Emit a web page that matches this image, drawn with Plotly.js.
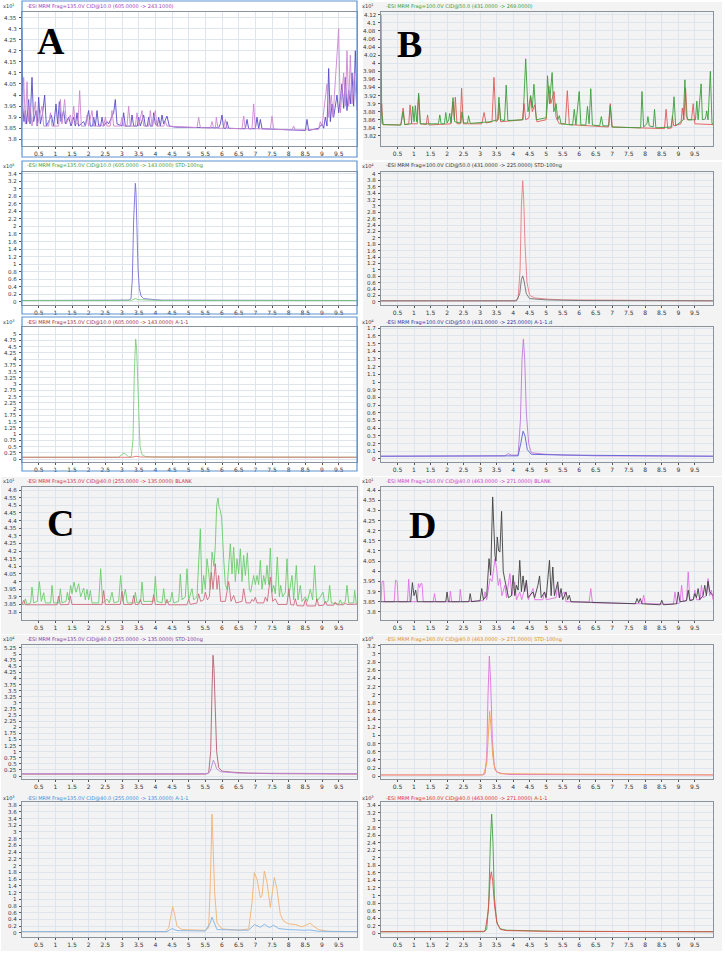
<!DOCTYPE html>
<html><head><meta charset="utf-8">
<script src="https://cdn.plot.ly/plotly-3.0.1.min.js"></script>
<style>html,body{margin:0;padding:0;background:#fff}#chart{width:725px;height:955px}</style>
</head><body><div id="chart"></div>
<script>
// ---------------- DATA ----------------
const xTickVals = [0.5,1,1.5,2,2.5,3,3.5,4,4.5,5,5.5,6,6.5,7,7.5,8,8.5,9,9.5];
const xTickText = ['0.5','1','1.5','2','2.5','3','3.5','4','4.5','5','5.5','6','6.5','7','7.5','8','8.5','9','9.5'];

const yTicksA = ['3.8','3.85','3.9','3.95','4','4.05','4.1','4.15','4.2','4.25','4.3','4.35'];
const yTicksB = ['3.82','3.84','3.86','3.88','3.9','3.92','3.94','3.96','3.98','4','4.02','4.04','4.06','4.08','4.1','4.12'];
const yTicksC = ['3.8','3.85','3.9','3.95','4','4.05','4.1','4.15','4.2','4.25','4.3','4.35','4.4','4.45','4.5','4.55','4.6'];
const yTicksD = ['3.8','3.85','3.9','3.95','4','4.05','4.1','4.15','4.2','4.25','4.3','4.35','4.4'];
const yTicks0to34 = ['0','0.2','0.4','0.6','0.8','1','1.2','1.4','1.6','1.8','2','2.2','2.4','2.6','2.8','3','3.2','3.4'];
const yTicks0to4 = ['0','0.2','0.4','0.6','0.8','1','1.2','1.4','1.6','1.8','2','2.2','2.4','2.6','2.8','3','3.2','3.4','3.6','3.8','4'];
const yTicks0to5 = ['0','0.25','0.5','0.75','1','1.25','1.5','1.75','2','2.25','2.5','2.75','3','3.25','3.5','3.75','4','4.25','4.5','4.75','5'];
const yTicks0to17 = ['0','0.1','0.2','0.3','0.4','0.5','0.6','0.7','0.8','0.9','1','1.1','1.2','1.3','1.4','1.5','1.6','1.7'];
const yTicks0to525 = ['0','0.25','0.5','0.75','1','1.25','1.5','1.75','2','2.25','2.5','2.75','3','3.25','3.5','3.75','4','4.25','4.5','4.75','5','5.25'];
const yTicks0to32 = ['0','0.2','0.4','0.6','0.8','1','1.2','1.4','1.6','1.8','2','2.2','2.4','2.6','2.8','3','3.2'];
const yTicks0to38 = ['0','0.2','0.4','0.6','0.8','1','1.2','1.4','1.6','1.8','2','2.2','2.4','2.6','2.8','3','3.2','3.4','3.6','3.8'];

// Panel A (blank, 605 -> 243)
const A_blue = [[0,4.3],[0.02,3.95],[0.06,3.88],[0.1,3.93],[0.14,3.87],[0.2,3.98],[0.24,3.87],[0.3,4.08],[0.35,3.88],[0.42,3.93],[0.46,3.86],[0.5,3.99],[0.55,3.87],[0.62,3.92],[0.68,4.0],[0.73,3.86],[0.8,3.88],[0.88,3.91],[0.95,3.86],[1.02,3.96],[1.07,3.87],[1.12,3.97],[1.17,3.88],[1.25,3.93],[1.3,3.87],[1.4,3.9],[1.47,3.86],[1.55,3.9],[1.6,3.86],[1.65,3.92],[1.7,3.86],[1.85,3.88],[1.9,3.86],[2.0,3.93],[2.05,3.86],[2.12,3.86],[2.15,3.9],[2.2,3.86],[2.25,3.93],[2.3,3.86],[2.36,3.86],[2.4,3.9],[2.45,3.86],[2.55,3.88],[2.6,3.87],[2.75,3.92],[2.8,3.98],[2.85,3.87],[3.0,3.86],[3.05,3.92],[3.1,3.86],[3.26,3.86],[3.3,3.91],[3.35,3.86],[3.46,3.86],[3.5,3.9],[3.55,3.86],[3.65,3.91],[3.7,3.86],[3.76,3.86],[3.8,3.9],[3.85,3.86],[3.92,3.86],[3.95,3.92],[4.0,3.87],[4.06,3.86],[4.1,3.9],[4.15,3.86],[4.2,3.91],[4.25,3.87],[4.35,3.905],[4.42,3.86],[4.6,3.855],[5.0,3.855],[5.5,3.853],[5.9,3.852],[5.95,3.87],[6.0,3.91],[6.05,3.85],[6.12,3.85],[6.15,3.88],[6.2,3.85],[6.6,3.848],[6.7,3.848],[6.75,3.89],[6.8,3.848],[7.0,3.848],[7.05,3.9],[7.1,3.848],[7.15,3.89],[7.2,3.848],[8.0,3.843],[8.5,3.84],[8.55,3.89],[8.6,3.84],[8.9,3.85],[9.0,3.87],[9.05,3.85],[9.1,3.9],[9.15,3.86],[9.2,4.12],[9.25,3.88],[9.3,3.96],[9.35,3.9],[9.45,4.0],[9.5,3.92],[9.6,4.05],[9.65,3.94],[9.7,4.08],[9.75,3.93],[9.8,4.02],[9.85,3.96],[9.9,4.1],[9.95,3.95],[10.0,4.2],[10.05,3.97]];
const A_pink = [[0,3.86],[0.05,4.08],[0.1,3.87],[0.15,4.06],[0.2,3.88],[0.25,3.95],[0.3,3.86],[0.4,3.97],[0.45,3.86],[0.6,3.95],[0.65,3.86],[0.8,3.86],[0.85,3.92],[0.9,3.86],[1.1,3.86],[1.15,3.98],[1.2,3.87],[1.28,3.98],[1.33,3.87],[1.45,3.91],[1.5,3.87],[1.55,3.95],[1.6,3.87],[1.68,3.87],[1.73,4.02],[1.78,3.86],[1.9,3.86],[1.95,3.91],[2.0,3.86],[2.1,3.93],[2.15,3.86],[2.3,3.86],[2.35,3.87],[2.4,3.86],[2.45,3.86],[2.5,3.9],[2.55,3.86],[2.65,3.86],[2.7,3.93],[2.75,3.86],[2.95,3.86],[3.0,3.9],[3.05,3.86],[3.15,3.86],[3.2,3.95],[3.25,3.86],[3.4,3.86],[3.45,3.92],[3.5,3.86],[3.6,3.93],[3.65,3.86],[3.8,3.86],[3.85,3.93],[3.9,3.86],[4.0,3.93],[4.05,3.86],[4.25,3.86],[4.3,3.88],[4.35,3.86],[5.25,3.853],[5.3,3.9],[5.35,3.853],[5.65,3.851],[5.7,3.88],[5.75,3.85],[5.8,3.85],[5.83,3.9],[5.88,3.85],[6.05,3.85],[6.1,3.89],[6.15,3.85],[6.6,3.848],[6.65,3.905],[6.7,3.848],[6.9,3.848],[6.95,3.96],[7.0,3.848],[7.45,3.846],[7.5,3.905],[7.55,3.845],[8.1,3.843],[8.15,3.86],[8.2,3.842],[8.9,3.845],[8.95,3.88],[9.0,3.86],[9.15,4.05],[9.2,3.9],[9.28,4.0],[9.33,3.9],[9.5,4.3],[9.55,3.92],[9.65,4.1],[9.7,3.95],[9.75,4.2],[9.8,3.95],[9.85,4.18],[9.9,3.96],[9.97,4.1],[10.05,3.93]];

// Panel A-2 (STD, 605 -> 143)
const A2_purple = [[0,0.03],[2.9,0.03],[3.2,0.04],[3.27,0.08],[3.31,0.6],[3.35,2.2],[3.38,3.1],[3.4,3.15],[3.42,2.9],[3.45,1.9],[3.48,0.9],[3.52,0.35],[3.57,0.15],[3.65,0.08],[3.8,0.06],[4.0,0.05],[4.2,0.04],[10.05,0.03]];
const A2_green = [[0,0.03],[2.95,0.03],[3.0,0.05],[3.05,0.03],[3.3,0.04],[3.4,0.08],[3.5,0.05],[3.7,0.04],[4.2,0.03],[10.05,0.03]];
// Panel A-3 (sample, 605 -> 143)
const A3_green = [[0,0.07],[2.9,0.07],[3.0,0.18],[3.06,0.24],[3.12,0.18],[3.2,0.08],[3.28,0.1],[3.33,0.8],[3.37,3.5],[3.41,4.8],[3.44,4.4],[3.47,3.0],[3.5,1.5],[3.54,0.5],[3.6,0.18],[3.7,0.1],[3.9,0.08],[10.05,0.07]];
const A3_red = [[0,0.07],[3.3,0.07],[3.42,0.11],[3.55,0.08],[10.05,0.07]];

// Panel B (blank, 431 -> 269)
const B_red = [[0,3.85],[0.02,3.9],[0.06,3.848],[0.6,3.847],[0.67,3.889],[0.72,3.848],[0.84,3.85],[0.88,3.897],[0.93,3.85],[1.1,3.85],[1.14,3.92],[1.19,3.85],[1.37,3.848],[1.41,3.872],[1.45,3.847],[2.12,3.85],[2.18,3.905],[2.22,3.86],[2.25,3.916],[2.3,3.85],[2.4,3.85],[2.44,3.938],[2.49,3.85],[3.05,3.85],[3.12,3.878],[3.18,3.852],[3.36,3.855],[3.42,3.965],[3.48,3.855],[3.55,3.86],[3.58,3.9],[3.62,3.855],[4.28,3.86],[4.33,3.9],[4.38,3.86],[4.48,3.865],[4.53,3.917],[4.58,3.88],[4.65,3.897],[4.72,3.855],[5.0,3.86],[5.08,3.944],[5.14,3.9],[5.24,3.93],[5.3,3.865],[5.4,3.85],[5.58,3.85],[5.64,3.932],[5.7,3.848],[6.88,3.842],[6.94,3.9],[7.0,3.842],[8.58,3.838],[8.63,3.886],[8.68,3.838],[8.8,3.84],[8.82,3.87],[8.86,3.845],[9.08,3.85],[9.12,3.889],[9.17,3.86],[9.22,3.938],[9.27,3.86],[9.4,3.86],[9.45,3.9],[9.5,3.85],[10.05,3.848]];
const B_green = [[0,4.12],[0.02,3.88],[0.06,3.848],[0.6,3.847],[0.67,3.88],[0.72,3.848],[0.92,3.85],[0.96,3.893],[1.0,3.855],[1.04,3.895],[1.08,3.855],[1.14,3.926],[1.19,3.85],[1.74,3.85],[1.78,3.872],[1.82,3.85],[1.92,3.85],[1.96,3.878],[2.0,3.852],[2.05,3.86],[2.08,3.876],[2.12,3.852],[2.18,3.915],[2.23,3.855],[2.42,3.852],[2.45,3.88],[2.5,3.852],[2.62,3.852],[2.65,3.87],[2.7,3.851],[3.3,3.855],[3.53,3.86],[3.57,3.916],[3.62,3.86],[3.74,3.858],[3.79,3.946],[3.84,3.858],[4.3,3.86],[4.38,4.011],[4.45,3.88],[4.53,3.92],[4.58,3.89],[4.63,3.948],[4.7,3.86],[5.0,3.865],[5.04,3.969],[5.1,3.9],[5.18,3.977],[5.23,3.88],[5.3,3.9],[5.35,3.86],[5.4,3.87],[5.45,3.85],[5.8,3.847],[5.85,3.886],[5.9,3.847],[6.0,3.93],[6.05,3.847],[6.2,3.847],[6.25,3.893],[6.3,3.85],[6.35,3.937],[6.4,3.847],[6.62,3.845],[6.67,3.868],[6.72,3.845],[6.9,3.845],[6.94,3.895],[6.99,3.842],[7.86,3.84],[7.9,3.93],[7.95,3.842],[8.05,3.85],[8.08,3.868],[8.12,3.845],[8.24,3.842],[8.28,3.886],[8.32,3.84],[8.78,3.842],[8.83,3.87],[8.87,3.917],[8.92,3.845],[9.15,3.86],[9.2,3.959],[9.24,3.87],[9.3,3.86],[9.52,3.86],[9.56,3.906],[9.6,3.86],[9.69,3.949],[9.73,3.86],[9.82,3.862],[9.86,3.882],[9.9,3.86],[9.97,3.98],[10.02,3.85],[10.05,3.85]];
// Panel B-2 (STD, 431 -> 225)
const B2_red = [[0,0.03],[4.05,0.03],[4.15,0.1],[4.21,1.0],[4.25,3.0],[4.29,3.79],[4.32,3.2],[4.36,1.8],[4.42,0.6],[4.5,0.2],[4.65,0.12],[4.85,0.1],[5.1,0.08],[5.5,0.06],[6.5,0.05],[7.5,0.05],[8.2,0.04],[10.05,0.03]];
const B2_gray = [[0,0.03],[4.1,0.03],[4.2,0.25],[4.25,0.7],[4.29,0.81],[4.33,0.65],[4.4,0.25],[4.5,0.1],[5.0,0.06],[6.0,0.04],[10.05,0.03]];
// Panel B-3 (sample, 431 -> 225)
const B3_violet = [[0,0.035],[3.75,0.04],[3.85,0.07],[3.95,0.05],[4.15,0.05],[4.22,0.5],[4.27,1.3],[4.31,1.56],[4.35,1.3],[4.4,0.6],[4.47,0.2],[4.55,0.08],[5.0,0.06],[5.7,0.05],[6.5,0.04],[10.05,0.035]];
const B3_blue = [[0,0.035],[4.15,0.04],[4.23,0.2],[4.3,0.36],[4.36,0.3],[4.43,0.12],[4.55,0.06],[5.5,0.05],[10.05,0.035]];

// Panel C (blank, 255 -> 135)
const C_green = [[0,3.85],[0.06,3.85],[0.1,3.887],[0.15,3.85],[0.26,3.86],[0.3,3.964],[0.35,3.86],[0.46,3.87],[0.52,4.0],[0.58,3.87],[0.65,3.927],[0.7,3.86],[0.86,3.86],[0.9,3.975],[0.95,3.86],[1.1,3.86],[1.15,3.953],[1.2,3.86],[1.32,3.87],[1.36,3.93],[1.4,3.88],[1.46,3.975],[1.5,3.92],[1.56,3.997],[1.62,3.93],[1.7,3.986],[1.76,3.9],[1.85,3.957],[1.9,3.88],[1.95,3.949],[2.0,3.88],[2.05,3.942],[2.1,3.86],[2.3,3.86],[2.36,4.084],[2.42,3.86],[2.55,3.885],[2.62,3.86],[2.7,3.93],[2.76,3.86],[2.9,3.87],[2.96,4.04],[3.02,3.87],[3.1,3.95],[3.16,3.86],[3.36,3.86],[3.4,3.93],[3.45,3.86],[3.56,3.87],[3.6,3.997],[3.65,3.87],[3.95,3.87],[4.0,4.034],[4.05,3.87],[4.2,3.86],[4.25,3.953],[4.3,3.86],[4.45,3.87],[4.5,3.93],[4.55,3.86],[4.7,3.87],[4.75,4.05],[4.8,3.88],[4.9,3.9],[4.95,4.084],[5.0,3.88],[5.1,3.953],[5.15,3.88],[5.25,3.9],[5.35,4.346],[5.4,3.92],[5.45,4.04],[5.5,3.95],[5.55,4.15],[5.6,4.062],[5.65,3.95],[5.7,4.193],[5.76,4.1],[5.8,4.237],[5.84,4.5],[5.88,4.548],[5.91,4.489],[5.95,4.467],[5.99,4.412],[6.05,4.15],[6.1,3.98],[6.15,3.95],[6.2,4.1],[6.25,4.248],[6.3,4.05],[6.35,4.226],[6.4,4.0],[6.45,4.15],[6.5,4.05],[6.55,4.215],[6.6,4.0],[6.65,4.172],[6.7,4.04],[6.76,4.189],[6.82,3.95],[6.86,3.93],[6.95,4.04],[7.0,3.98],[7.05,4.04],[7.1,3.98],[7.15,4.139],[7.2,3.95],[7.25,4.04],[7.3,3.98],[7.35,4.106],[7.4,3.98],[7.45,4.22],[7.5,3.93],[7.55,3.975],[7.6,3.92],[7.66,4.161],[7.72,3.9],[7.76,3.975],[7.82,3.9],[7.9,3.93],[7.95,4.15],[8.0,3.9],[8.1,4.04],[8.15,3.88],[8.23,4.106],[8.28,3.88],[8.35,3.975],[8.4,3.87],[8.5,3.9],[8.56,3.87],[8.65,3.95],[8.72,3.88],[8.78,4.106],[8.84,3.87],[8.95,3.9],[9.03,3.931],[9.08,3.86],[9.18,3.87],[9.23,3.975],[9.28,3.86],[9.5,3.852],[9.55,3.88],[9.6,3.852],[9.7,3.87],[9.75,3.975],[9.8,3.86],[9.95,3.86],[9.98,3.942],[10.03,3.855]];
const C_pink = [[0,3.85],[0.05,3.877],[0.1,3.848],[1.05,3.848],[1.1,3.905],[1.15,3.848],[1.4,3.85],[1.45,3.905],[1.5,3.85],[2.4,3.85],[2.45,3.942],[2.5,3.85],[2.95,3.85],[3.0,3.936],[3.05,3.85],[3.3,3.85],[3.35,3.909],[3.4,3.85],[3.5,3.85],[3.55,3.883],[3.6,3.85],[3.9,3.85],[3.95,3.914],[4.0,3.85],[4.3,3.848],[4.35,3.883],[4.4,3.848],[4.95,3.848],[5.0,3.883],[5.05,3.85],[5.25,3.86],[5.3,3.92],[5.36,3.87],[5.45,3.88],[5.5,3.931],[5.56,3.88],[5.62,3.9],[5.68,4.062],[5.73,3.95],[5.8,4.117],[5.85,3.95],[5.9,4.04],[5.96,3.87],[6.1,3.87],[6.2,4.0],[6.27,3.87],[6.35,3.909],[6.42,3.86],[6.6,3.87],[6.65,3.953],[6.72,3.86],[6.85,3.86],[6.9,3.883],[6.95,3.87],[7.0,3.898],[7.05,3.86],[7.25,3.86],[7.3,3.898],[7.36,3.87],[7.45,4.03],[7.52,3.87],[7.6,3.887],[7.68,3.85],[7.95,3.85],[8.0,3.953],[8.06,3.85],[8.15,3.845],[8.2,3.887],[8.25,3.842],[8.45,3.84],[8.5,3.883],[8.55,3.84],[8.8,3.84],[8.85,3.887],[8.9,3.842],[9.05,3.845],[9.1,3.87],[9.15,3.845],[9.35,3.845],[9.4,3.866],[9.45,3.848],[9.65,3.848],[9.7,3.861],[9.75,3.85],[10.05,3.852]];
// Panel C-2 (STD, 255 -> 135)
const C2_brown = [[0,0.08],[5.5,0.08],[5.6,0.12],[5.66,1.0],[5.7,3.5],[5.73,4.95],[5.76,4.4],[5.8,2.5],[5.84,1.0],[5.9,0.35],[6.0,0.2],[6.3,0.16],[6.8,0.12],[7.5,0.1],[10.05,0.08]];
const C2_violet = [[0,0.1],[5.55,0.1],[5.65,0.2],[5.7,0.5],[5.74,0.65],[5.78,0.55],[5.84,0.3],[5.95,0.18],[6.5,0.12],[10.05,0.1]];
// Panel C-3 (sample, 255 -> 135)
const C3_orange = [[0,0.04],[4.3,0.04],[4.4,0.15],[4.47,0.6],[4.52,0.78],[4.57,0.6],[4.65,0.2],[4.8,0.1],[5.5,0.08],[5.6,0.15],[5.65,1.5],[5.7,3.53],[5.74,2.6],[5.78,1.2],[5.85,0.3],[6.0,0.12],[6.5,0.08],[6.8,0.12],[6.9,0.9],[6.97,1.79],[7.05,1.6],[7.15,1.05],[7.2,1.1],[7.27,1.84],[7.35,1.5],[7.45,0.76],[7.57,1.65],[7.65,1.3],[7.75,0.55],[7.85,0.35],[8.0,0.27],[8.2,0.25],[8.4,0.18],[8.55,0.26],[8.65,0.29],[8.75,0.2],[8.9,0.1],[9.1,0.06],[9.3,0.04],[10.05,0.04]];
const C3_blue = [[0,0.04],[4.35,0.04],[4.5,0.13],[4.65,0.07],[5.5,0.06],[5.65,0.3],[5.7,0.47],[5.76,0.3],[5.85,0.1],[6.8,0.08],[6.97,0.25],[7.15,0.17],[7.27,0.26],[7.42,0.16],[7.55,0.23],[7.7,0.13],[8.0,0.1],[8.5,0.08],[8.62,0.09],[8.9,0.05],[10.05,0.04]];

// Panel D (blank, 463 -> 271)
const D_magenta = [[0,3.85],[0.03,3.951],[0.08,3.951],[0.11,3.85],[0.4,3.85],[0.44,3.956],[0.49,3.95],[0.52,3.85],[0.8,3.85],[0.84,3.961],[0.88,3.85],[1.1,3.85],[1.13,3.939],[1.17,3.92],[1.2,3.939],[1.24,3.939],[1.28,3.85],[1.58,3.85],[1.62,3.89],[1.66,3.85],[2.07,3.85],[2.1,3.902],[2.14,3.85],[2.37,3.85],[2.4,3.911],[2.44,3.85],[3.1,3.855],[3.15,3.898],[3.2,3.86],[3.27,3.92],[3.3,3.964],[3.36,3.95],[3.4,3.997],[3.45,4.062],[3.5,4.013],[3.55,3.93],[3.6,3.964],[3.66,3.88],[3.75,3.931],[3.8,3.87],[3.9,3.989],[3.96,3.88],[4.05,3.948],[4.1,3.86],[4.2,3.898],[4.26,3.86],[4.4,3.948],[4.46,3.86],[4.6,3.915],[4.65,3.86],[4.9,3.86],[4.95,3.898],[5.0,3.86],[5.3,3.87],[5.35,3.931],[5.4,3.87],[5.55,3.898],[5.6,3.85],[6.3,3.848],[6.35,3.915],[6.4,3.845],[7.9,3.84],[7.95,3.882],[8.0,3.84],[8.85,3.838],[8.9,3.898],[8.95,3.84],[9.05,3.845],[9.1,3.931],[9.15,3.85],[9.25,3.86],[9.3,3.997],[9.35,3.86],[9.45,3.86],[9.5,3.907],[9.55,3.86],[9.66,3.86],[9.7,3.931],[9.75,3.87],[9.85,3.88],[9.9,3.964],[9.95,3.88],[10.0,3.907],[10.05,3.86]];
const D_black = [[0,3.85],[0.9,3.85],[0.95,3.944],[1.0,3.88],[1.05,3.907],[1.1,3.85],[1.96,3.85],[2.0,3.898],[2.04,3.85],[2.66,3.85],[2.7,3.89],[2.74,3.85],[3.0,3.855],[3.05,3.915],[3.1,3.86],[3.2,3.88],[3.27,4.062],[3.32,3.98],[3.38,4.366],[3.42,4.15],[3.45,4.079],[3.48,4.05],[3.52,4.169],[3.56,4.1],[3.6,4.095],[3.65,4.295],[3.7,4.0],[3.75,3.956],[3.8,3.907],[3.86,3.87],[3.95,3.88],[4.0,3.98],[4.05,3.88],[4.1,3.931],[4.15,3.907],[4.2,4.054],[4.25,3.9],[4.3,3.977],[4.35,3.9],[4.4,3.956],[4.45,3.87],[4.6,3.898],[4.65,3.87],[4.75,3.931],[4.8,3.977],[4.85,3.87],[4.95,3.898],[5.0,3.87],[5.1,4.054],[5.15,3.88],[5.2,4.021],[5.25,3.88],[5.35,3.948],[5.4,3.87],[5.45,3.915],[5.5,3.86],[5.6,3.898],[5.65,3.86],[5.7,3.882],[5.75,3.85],[7.7,3.84],[7.75,3.866],[7.8,3.845],[7.85,3.866],[7.9,3.84],[8.45,3.835],[8.5,3.857],[8.55,3.835],[8.95,3.84],[9.0,3.898],[9.05,3.85],[9.25,3.855],[9.3,3.907],[9.35,3.855],[9.45,3.86],[9.5,3.89],[9.55,3.87],[9.6,3.915],[9.65,3.86],[9.75,3.88],[9.8,3.931],[9.85,3.88],[9.9,3.951],[9.95,3.9],[10.05,3.88]];
// Panel D-2 (STD, 463 -> 271)
const D2_magenta = [[0,0.03],[3.05,0.03],[3.15,0.06],[3.2,0.5],[3.24,2.0],[3.28,2.95],[3.32,2.3],[3.37,0.9],[3.43,0.25],[3.5,0.1],[3.7,0.06],[3.9,0.04],[10.05,0.03]];
const D2_orange = [[0,0.03],[3.1,0.03],[3.2,0.3],[3.25,1.2],[3.29,1.59],[3.33,1.2],[3.38,0.5],[3.45,0.15],[3.6,0.06],[10.05,0.03]];
// Panel D-3 (sample, 463 -> 271)
const D3_green = [[0,0.04],[3.1,0.04],[3.2,0.1],[3.26,0.8],[3.31,2.4],[3.35,3.16],[3.39,2.4],[3.43,1.0],[3.5,0.3],[3.6,0.12],[3.8,0.08],[4.5,0.06],[5.3,0.05],[10.05,0.04]];
const D3_red = [[0,0.04],[3.15,0.05],[3.25,0.6],[3.3,1.4],[3.34,1.63],[3.38,1.4],[3.44,0.7],[3.52,0.25],[3.62,0.1],[3.8,0.07],[5.0,0.05],[10.05,0.04]];

const headers = [
  '-ESI MRM Frag=135.0V CID@10.0 (605.0000 -> 243.1000)',
  '-ESI MRM Frag=100.0V CID@50.0 (431.0000 -> 269.0000)',
  '-ESI MRM Frag=135.0V CID@10.0 (605.0000 -> 143.0000) STD-100ng',
  '-ESI MRM Frag=100.0V CID@50.0 (431.0000 -> 225.0000) STD-100ng',
  '-ESI MRM Frag=135.0V CID@10.0 (605.0000 -> 143.0000) A-1-1',
  '-ESI MRM Frag=100.0V CID@50.0 (431.0000 -> 225.0000) A-1-1.d',
  '-ESI MRM Frag=135.0V CID@40.0 (255.0000 -> 135.0000) BLANK',
  '-ESI MRM Frag=160.0V CID@40.0 (463.0000 -> 271.0000) BLANK',
  '-ESI MRM Frag=135.0V CID@40.0 (255.0000 -> 135.0000) STD-100ng',
  '-ESI MRM Frag=160.0V CID@40.0 (463.0000 -> 271.0000) STD-100ng',
  '-ESI MRM Frag=135.0V CID@40.0 (255.0000 -> 135.0000) A-1-1',
  '-ESI MRM Frag=160.0V CID@40.0 (463.0000 -> 271.0000) A-1-1'
];
const exponents = ['1','1','5','4','3','4','1','1','4','5','3','3'];
const panelLetters = ['A','B','','','','','C','D','','','',''];

// ---------------- STYLE / LAYOUT ----------------
const W = 725, H = 955;
const COLS = [[22,357],[381,713]];
const ROWS = [[12,146],[172,305],[327,462],[487,620],[645,779],[802,937]];
const HEADER_Y = [6,166,322,481,639,798];

const panels = [
  {series:[[A_blue,'#5a4ac8'],[A_pink,'#cc86d2']], ticks:yTicksA, range:[3.77,4.375], hc:'#9a3cbe'},
  {series:[[B_red,'#e05a5a'],[B_green,'#3a9e3a']], ticks:yTicksB, range:[3.795,4.127], hc:'#3a9a3a'},
  {series:[[A2_purple,'#7a70d8'],[A2_green,'#78c878']], ticks:yTicks0to34, range:[-0.09,3.45], hc:'#3a9a3a'},
  {series:[[B2_red,'#e87c84'],[B2_gray,'#707070']], ticks:yTicks0to4, range:[-0.1,4.06], hc:'#333333'},
  {series:[[A3_green,'#7ccf7c'],[A3_red,'#e07070']], ticks:yTicks0to5, range:[-0.12,5.28], hc:'#a03040'},
  {series:[[B3_violet,'#c07ad8'],[B3_blue,'#5a62d6']], ticks:yTicks0to17, range:[-0.04,1.715], hc:'#3030a0'},
  {series:[[C_green,'#6acc6a'],[C_pink,'#d06a80']], ticks:yTicksC, range:[3.748,4.62], hc:'#d03050'},
  {series:[[D_magenta,'#e070e8'],[D_black,'#404040']], ticks:yTicksD, range:[3.76,4.415], hc:'#d040d0'},
  {series:[[C2_brown,'#b46070'],[C2_violet,'#b884dc']], ticks:yTicks0to525, range:[-0.12,5.37], hc:'#8040a0'},
  {series:[[D2_magenta,'#e070e0'],[D2_orange,'#f5a050']], ticks:yTicks0to32, range:[-0.07,3.22], hc:'#e09020'},
  {series:[[C3_orange,'#f2b272'],[C3_blue,'#80b4e8']], ticks:yTicks0to38, range:[-0.12,3.89], hc:'#4090e0'},
  {series:[[D3_green,'#40a040'],[D3_red,'#e05050']], ticks:yTicks0to34, range:[-0.1,3.48], hc:'#e03030'}
];

const traces = [];
const layout = {
  width: W, height: H, margin:{l:0,r:0,t:0,b:0},
  paper_bgcolor:'#ffffff', plot_bgcolor:'#ffffff', showlegend:false,
  font:{family:'DejaVu Sans, sans-serif', size:6, color:'#333'},
  annotations:[], shapes:[]
};
const fx = p => p/W, fy = p => 1 - p/H;

panels.forEach((p, i) => {
  const n = i+1, col = COLS[i%2], row = ROWS[Math.floor(i/2)], r = Math.floor(i/2), c = i%2;
  const xn = 'x'+(n===1?'':n), yn = 'y'+(n===1?'':n);
  p.series.forEach(([pts,color]) => {
    traces.push({x:pts.map(q=>q[0]), y:pts.map(q=>q[1]), type:'scatter', mode:'lines',
      line:{color:color, width:1}, opacity:0.9, xaxis:xn, yaxis:yn, hoverinfo:'skip'});
  });
  const common = {showgrid:true, gridcolor:'#dfe5ec', gridwidth:1, zeroline:false,
    showline:true, linecolor:'#8a949e', linewidth:1, mirror:true, ticks:'outside', ticklen:2,
    tickcolor:'#555', tickfont:{size:6, color:'#333'}, fixedrange:true};
  layout['xaxis'+(n===1?'':n)] = Object.assign({}, common, {
    domain:[fx(col[0]), fx(col[1])], range:[0,10.05], anchor:yn,
    tickmode:'array', tickvals:xTickVals, ticktext:xTickText});
  layout['yaxis'+(n===1?'':n)] = Object.assign({}, common, {
    domain:[fy(row[1]), fy(row[0])], range:p.range, anchor:xn,
    tickmode:'array', tickvals:p.ticks.map(Number), showticklabels:false});
  // y tick labels drawn as annotations on the axis scale (avoids auto-hiding)
  p.ticks.forEach(t => {
    layout.annotations.push({xref:'paper', yref:yn, x:fx(col[0]-3), y:Number(t),
      xanchor:'right', yanchor:'middle', showarrow:false, text:t,
      font:{size:5.5, color:'#333'}});
  });
  // header
  layout.annotations.push({xref:'paper', yref:'paper', x:fx(col[0]+3), y:fy(HEADER_Y[r]),
    xanchor:'left', yanchor:'middle', showarrow:false, text:headers[i],
    font:{size:5, color:p.hc}});
  layout.annotations.push({xref:'paper', yref:'paper', x:fx(col[0]-21), y:fy(HEADER_Y[r]),
    xanchor:'left', yanchor:'middle', showarrow:false, text:'x10<sup>'+exponents[i]+'</sup>',
    font:{size:5, color:'#333'}});
  // panel background / frame
  if (c===0 && r<3) {
    const tops=[1,161,317], bots=[157,314,471];
    layout.shapes.push({type:'rect', xref:'paper', yref:'paper', x0:fx(col[0]), x1:fx(col[1]),
      y0:fy(bots[r]), y1:fy(tops[r]), line:{color:'#5f93d2', width:1.2}, fillcolor:'rgba(0,0,0,0)', layer:'above'});
  } else {
    const x0 = c===0 ? 1 : 363, x1 = c===0 ? 360 : 722;
    layout.shapes.push({type:'rect', xref:'paper', yref:'paper', x0:fx(x0), x1:fx(x1),
      y0:fy(row[1]+14), y1:fy(row[0]-10), line:{width:0}, fillcolor:'#f3f3f3', layer:'below'});
  }
  if (panelLetters[i]) {
    const pos = {A:[51,41],B:[409,44],C:[60,523],D:[422,525]}[panelLetters[i]];
    layout.annotations.push({xref:'paper', yref:'paper', x:fx(pos[0]), y:fy(pos[1]),
      xanchor:'center', yanchor:'middle', showarrow:false, text:'<b>'+panelLetters[i]+'</b>',
      font:{family:'Liberation Serif, Times New Roman, serif', size:38, color:'#000'}});
  }
});

Plotly.newPlot('chart', traces, layout, {staticPlot:true, displayModeBar:false});
</script>
</body></html>
